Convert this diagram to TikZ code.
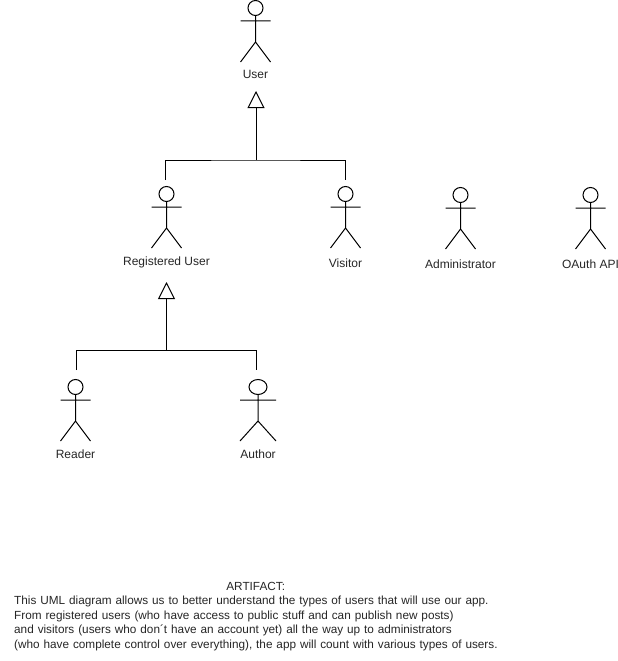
\documentclass[tikz,border=0pt]{standalone}
\usepackage{fontspec}
\setmainfont{Liberation Sans}
\usetikzlibrary{arrows.meta}
\tikzset{
  x=1pt,y=-1pt,
  stick/.style={draw=black,line width=1pt},
  actorlabel/.style={font=\fontsize{12}{14}\selectfont,text=black!85,inner sep=0pt,anchor=center},
  generalize/.style={draw=black,line width=1pt,-{Triangle[open,fill=white,length=17pt,width=17pt,line width=1pt]}},
  note/.style={font=\fontsize{11.77}{14.5}\selectfont,text=black!85,inner sep=0pt,anchor=north west,align=left,text width=495pt}
}
% name, x, head centre y, head x-radius, label y, label text
\newcommand{\umlactor}[6]{%
  \draw[stick] (#2,#3) ellipse [x radius=#4,y radius=7.5];
  \draw[stick] (#2,#3+7.5) -- (#2,#3+34) (#2-2*#4,#3+13) -- (#2+2*#4,#3+13)
    (#2-2*#4,#3+54) -- (#2,#3+34) -- (#2+2*#4,#3+54);
  \coordinate (#1top) at (#2,#3-7.5);
  \node[actorlabel] (#1) at (#2,#5) {#6};
}
\begin{document}
\begin{tikzpicture}
\useasboundingbox (0,0) rectangle (618,661);
\umlactor{user}{255.5}{8}{7.5}{74}{User}
\umlactor{registered}{166.5}{194}{7.5}{262}{Registered User}
\umlactor{visitor}{345.5}{194}{7.5}{263}{Visitor}
\umlactor{admin}{460.5}{195}{7.5}{264.5}{Administrator}
\umlactor{oauth}{590.5}{195}{7.5}{264.5}{OAuth API}
\umlactor{reader}{75.5}{387}{7.5}{454}{Reader}
\umlactor{author}{258}{387}{9}{454}{Author}

\coordinate (usertip) at (256,91);
\coordinate (junctionA) at (256,160);
\coordinate (regend) at (165.5,180);
\coordinate (visend) at (345.5,180);
\coordinate (regtip) at (166.5,282);
\coordinate (junctionB) at (166.5,350.5);
\coordinate (readend) at (76,370);
\coordinate (authend) at (256,370);

\draw[generalize] (junctionA) -- (usertip);
\draw[stick] (regend) |- (junctionA) -| (visend);
\draw[generalize] (junctionB) -- (regtip);
\draw[stick] (readend) |- (junctionB) -| (authend);

\node[note] (artifact) at (14,582) {\makebox[483pt]{ARTIFACT:}\\
This UML diagram allows us to better understand the types of users that will use our app.\\
From registered users (who have access to public stuff and can publish new posts)\\
and visitors (users who don´t have an account yet) all the way up to administrators\\
(who have complete control over everything), the app will count with various types of users.};
\end{tikzpicture}
\end{document}
